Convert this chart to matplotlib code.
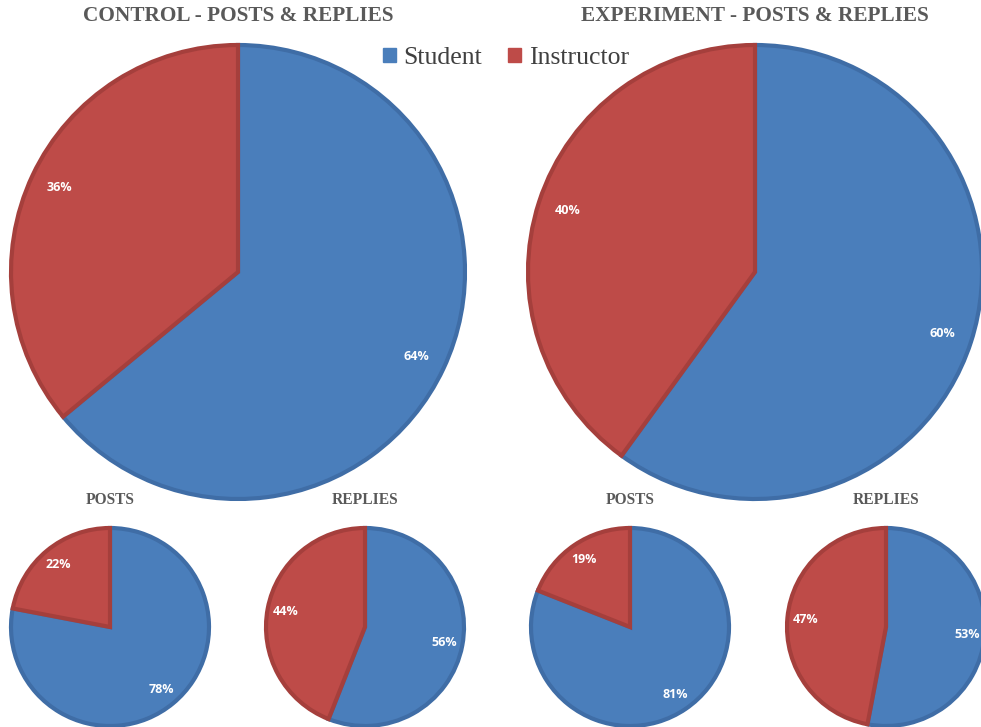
import matplotlib.pyplot as plt
from matplotlib.patches import Patch

# shares (Student, Instructor)
labels = ["Student", "Instructor"]
control_all = [64, 36]
control_posts = [78, 22]
control_replies = [56, 44]
experiment_all = [60, 40]
experiment_posts = [81, 19]
experiment_replies = [53, 47]

colors = ["#4A7EBB", "#BE4B48"]
edges = ["#3F6DA6", "#A53F3C"]

W, H = 981, 727
fig = plt.figure(figsize=(W / 100, H / 100), dpi=100)


def pie_at(cx, cy, r, values, title, title_y, title_size, pctdist):
    pad = 1.03
    ax = fig.add_axes([(cx - r * pad) / W, (H - cy - r * pad) / H,
                       2 * r * pad / W, 2 * r * pad / H])
    wedges, _, autotexts = ax.pie(values, colors=colors, startangle=90,
                                  counterclock=False,
                                  autopct=lambda p: f"{round(p)}%",
                                  pctdistance=pctdist,
                                  wedgeprops=dict(linewidth=3, edgecolor="none"),
                                  textprops=dict(color="white", fontsize=9,
                                                 fontweight="bold",
                                                 family="Open Sans"))
    for w, ec in zip(wedges, edges):
        w.set_edgecolor(ec)
    ax.set_xlim(-pad, pad)
    ax.set_ylim(-pad, pad)
    ax.set_aspect("equal")
    ax.axis("off")
    fig.text(cx / W, 1 - title_y / H, title, ha="center", va="center",
             fontsize=title_size, fontweight="bold", color="#595959",
             family="Liberation Serif")


pie_at(238, 272, 227, control_all, "CONTROL - POSTS & REPLIES", 16, 15.3, 0.87)
pie_at(755, 272, 227, experiment_all, "EXPERIMENT - POSTS & REPLIES", 16, 15.3, 0.87)
pie_at(110, 627, 99, control_posts, "POSTS", 500, 11.2, 0.82)
pie_at(365, 627, 99, control_replies, "REPLIES", 500, 11.2, 0.82)
pie_at(630, 627, 99, experiment_posts, "POSTS", 500, 11.2, 0.82)
pie_at(886, 627, 99, experiment_replies, "REPLIES", 500, 11.2, 0.82)

handles = [Patch(facecolor=c, edgecolor=c) for c in colors]
fig.legend(handles, labels, loc="center", bbox_to_anchor=(506 / W, 1 - 58 / H),
           ncol=2, frameon=False, handlelength=0.5, handleheight=0.5,
           handletextpad=0.3, columnspacing=1.0,
           prop=dict(family="Liberation Serif", size=18.5), labelcolor="#404040")

fig.savefig("out.png", dpi=100)
